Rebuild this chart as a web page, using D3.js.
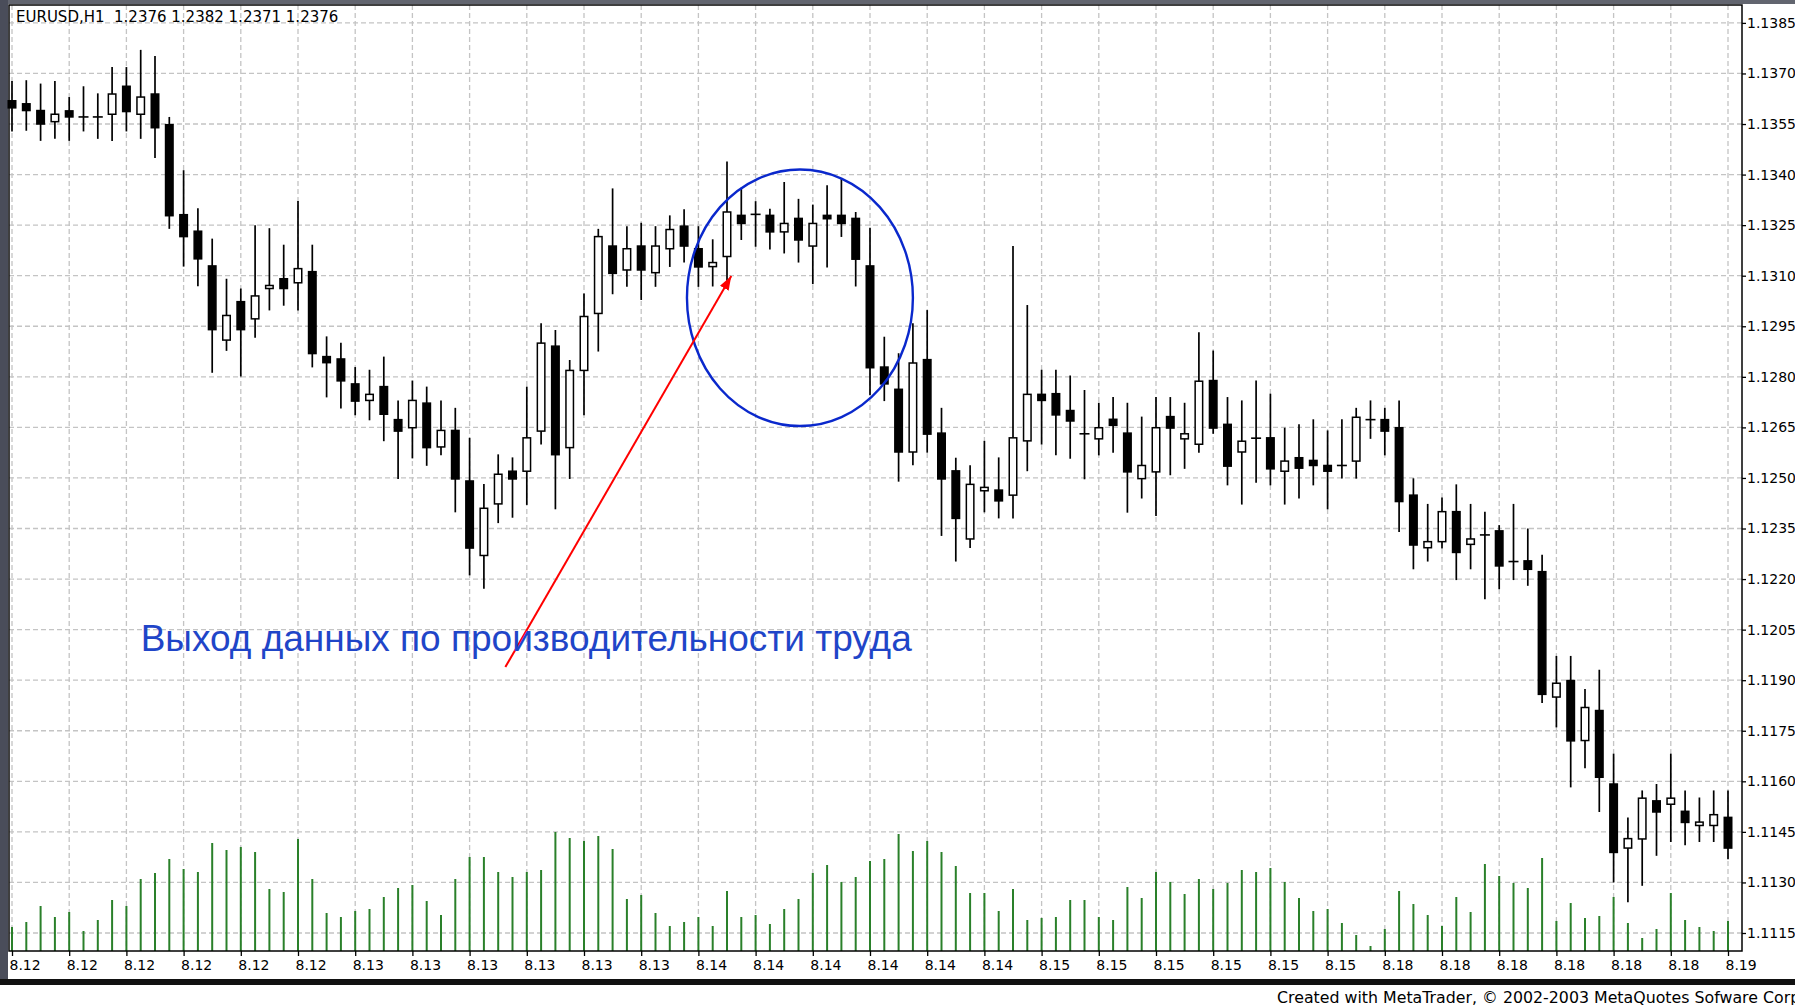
<!DOCTYPE html>
<html>
<head>
<meta charset="utf-8">
<script src="https://cdn.jsdelivr.net/npm/d3@7"></script>
<style>
  body { margin: 0; background: #fff; }
  svg { display: block; }
  .axis text { font-family: "DejaVu Sans", sans-serif; font-size: 14px; fill: #000; }
  .axis line { stroke: #000; stroke-width: 1.3; }
</style>
</head>
<body>
<svg id="chart" width="1795" height="1005"></svg>
<script>
// ---- data (EURUSD H1) ----
const headerText = "EURUSD,H1  1.2376 1.2382 1.2371 1.2376";
const noteText = "Выход данных по производительности труда";
const footerText = "Created with MetaTrader, © 2002-2003 MetaQuotes Sofware Corp.";

const openP = [
  1.13619, 1.1361, 1.1359, 1.13557, 1.13589, 1.13571, 1.13571, 1.13579, 1.13662, 1.13579,
  1.13639, 1.13548, 1.13281, 1.13232, 1.13129, 1.12909, 1.13023, 1.12972, 1.13062, 1.13091,
  1.13079, 1.13112, 1.1286, 1.12853, 1.12779, 1.1273, 1.12771, 1.12673, 1.12649, 1.12722,
  1.12592, 1.12641, 1.12491, 1.1227, 1.12423, 1.1252, 1.1252, 1.12639, 1.12891, 1.1259,
  1.12819, 1.12988, 1.13188, 1.13117, 1.13188, 1.13109, 1.1318, 1.13247, 1.1318, 1.13127,
  1.13157, 1.13279, 1.13279, 1.13279, 1.1323, 1.1327, 1.13188, 1.13279, 1.13279, 1.1327,
  1.13129, 1.12829, 1.12763, 1.12577, 1.12851, 1.12633, 1.12521, 1.12319, 1.12462, 1.12464,
  1.12449, 1.1261, 1.12748, 1.1275, 1.127, 1.12631, 1.12616, 1.12674, 1.12633, 1.12498,
  1.12518, 1.12682, 1.12616, 1.126, 1.12789, 1.12659, 1.12577, 1.12618, 1.12619, 1.1252,
  1.1256, 1.12552, 1.12537, 1.12537, 1.1255, 1.12673, 1.12673, 1.12649, 1.12449, 1.12293,
  1.12311, 1.124, 1.12303, 1.12331, 1.12343, 1.12252, 1.12254, 1.12222, 1.1185, 1.11899,
  1.11721, 1.1181, 1.11592, 1.11402, 1.11429, 1.11542, 1.11532, 1.11511, 1.11469, 1.11469,
  1.11493
];
const highP = [
  1.13678, 1.1368, 1.1367, 1.13678, 1.1363, 1.13662, 1.13641, 1.13719, 1.13719, 1.1377,
  1.13752, 1.13571, 1.13413, 1.133, 1.1321, 1.13091, 1.13062, 1.1325, 1.13241, 1.13192,
  1.13322, 1.13192, 1.1292, 1.12901, 1.12829, 1.12821, 1.1286, 1.1273, 1.12789, 1.12771,
  1.1273, 1.12708, 1.12619, 1.12482, 1.1257, 1.12561, 1.12771, 1.12959, 1.12939, 1.1285,
  1.13047, 1.13239, 1.13359, 1.13247, 1.13257, 1.13247, 1.13279, 1.13297, 1.13247, 1.13208,
  1.13439, 1.13361, 1.13321, 1.13299, 1.13378, 1.13328, 1.13311, 1.13368, 1.13388, 1.13289,
  1.13242, 1.12919, 1.1287, 1.12959, 1.12998, 1.12708, 1.1256, 1.12538, 1.1261, 1.12561,
  1.13188, 1.13013, 1.12821, 1.12821, 1.12804, 1.12761, 1.12723, 1.1274, 1.12723, 1.12682,
  1.1274, 1.1274, 1.12723, 1.12932, 1.12878, 1.1274, 1.1273, 1.12789, 1.1275, 1.12649,
  1.12659, 1.12674, 1.12641, 1.12674, 1.12708, 1.1273, 1.12708, 1.1273, 1.12499, 1.12423,
  1.12442, 1.12481, 1.12423, 1.124, 1.1236, 1.12423, 1.1235, 1.12272, 1.11972, 1.11972,
  1.11874, 1.11931, 1.11682, 1.11493, 1.11573, 1.11592, 1.11682, 1.11573, 1.11552, 1.11573,
  1.11573
];
const lowP = [
  1.13528, 1.1353, 1.135, 1.13506, 1.135, 1.13528, 1.13506, 1.135, 1.13528, 1.13506,
  1.13449, 1.13239, 1.13127, 1.13069, 1.12812, 1.12877, 1.12801, 1.12916, 1.12997, 1.13011,
  1.12997, 1.12828, 1.12739, 1.12706, 1.12686, 1.12671, 1.12609, 1.12497, 1.12558, 1.12536,
  1.12567, 1.12398, 1.12211, 1.12171, 1.12366, 1.12382, 1.1242, 1.12599, 1.12407, 1.12497,
  1.12686, 1.12875, 1.13045, 1.13067, 1.13028, 1.13067, 1.13126, 1.13139, 1.13067, 1.13068,
  1.13085, 1.13206, 1.13186, 1.13178, 1.13166, 1.13139, 1.13075, 1.13124, 1.13215, 1.13068,
  1.12745, 1.12728, 1.12489, 1.12538, 1.12575, 1.12328, 1.12252, 1.12292, 1.12398, 1.1238,
  1.1238, 1.1252, 1.12599, 1.12567, 1.12557, 1.12496, 1.12567, 1.12575, 1.12397, 1.12439,
  1.12387, 1.12508, 1.12527, 1.12575, 1.12631, 1.12478, 1.12421, 1.12486, 1.12478, 1.12421,
  1.12439, 1.12478, 1.12407, 1.12498, 1.12498, 1.12616, 1.12567, 1.1234, 1.12229, 1.12252,
  1.12291, 1.12197, 1.12229, 1.1214, 1.1217, 1.12197, 1.1218, 1.11832, 1.1176, 1.11582,
  1.11639, 1.11509, 1.113, 1.11241, 1.1129, 1.11379, 1.1142, 1.1141, 1.1142, 1.1142,
  1.11369
];
const closeP = [
  1.13598, 1.1359, 1.1355, 1.13579, 1.13571, 1.13571, 1.13571, 1.13639, 1.13587, 1.1363,
  1.13539, 1.13278, 1.13216, 1.1315, 1.1294, 1.12982, 1.1294, 1.1304, 1.13071, 1.13062,
  1.13121, 1.12869, 1.12842, 1.12788, 1.12728, 1.12748, 1.12689, 1.12639, 1.1273, 1.1259,
  1.12641, 1.12497, 1.12292, 1.1241, 1.12511, 1.12497, 1.12619, 1.129, 1.12569, 1.12819,
  1.12979, 1.13216, 1.13107, 1.1318, 1.13117, 1.13188, 1.13237, 1.13188, 1.13126, 1.13139,
  1.13289, 1.13255, 1.13282, 1.1323, 1.13255, 1.13206, 1.13255, 1.13269, 1.13255, 1.13149,
  1.12827, 1.12779, 1.12577, 1.12841, 1.1263, 1.12497, 1.1238, 1.12481, 1.12472, 1.12432,
  1.12619, 1.12748, 1.1273, 1.12687, 1.12669, 1.12631, 1.12649, 1.12656, 1.12518, 1.12537,
  1.12649, 1.12648, 1.12631, 1.12787, 1.12648, 1.12535, 1.12609, 1.12618, 1.12527, 1.1255,
  1.12529, 1.12537, 1.1252, 1.12537, 1.1268, 1.12673, 1.12639, 1.1243, 1.12301, 1.12311,
  1.124, 1.12279, 1.12319, 1.12331, 1.12239, 1.12252, 1.12229, 1.11858, 1.11891, 1.1172,
  1.11819, 1.11612, 1.11389, 1.1143, 1.1155, 1.11509, 1.1155, 1.11478, 1.11479, 1.11501,
  1.11402
];
const volumes = [
  24, 29, 45, 34, 39, 20, 31, 51, 45, 72,
  78, 92, 82, 79, 108, 101, 104, 99, 62, 59,
  112, 72, 38, 34, 40, 42, 54, 63, 66, 50,
  36, 72, 94, 94, 79, 74, 79, 81, 119, 113,
  110, 115, 102, 52, 56, 38, 25, 29, 34, 25,
  60, 34, 36, 27, 42, 52, 78, 86, 69, 74,
  90, 92, 117, 100, 110, 99, 85, 58, 58, 40,
  62, 31, 33, 34, 51, 51, 34, 31, 64, 53,
  79, 69, 57, 72, 62, 68, 81, 79, 83, 69,
  53, 40, 42, 28, 16, 5, 22, 60, 47, 36,
  25, 54, 39, 87, 75, 68, 63, 93, 30, 48,
  33, 35, 54, 28, 13, 22, 58, 31, 24, 20,
  30
];
// one date label every 4 bars
const dateLabels = [
  "8.12", "8.12", "8.12", "8.12", "8.12", "8.12",
  "8.13", "8.13", "8.13", "8.13", "8.13", "8.13",
  "8.14", "8.14", "8.14", "8.14", "8.14", "8.14",
  "8.15", "8.15", "8.15", "8.15", "8.15", "8.15",
  "8.18", "8.18", "8.18", "8.18", "8.18", "8.18",
  "8.19"
];
const priceTicks = [
  1.1385, 1.1370, 1.1355, 1.1340, 1.1325, 1.1310, 1.1295, 1.1280, 1.1265, 1.1250,
  1.1235, 1.1220, 1.1205, 1.1190, 1.1175, 1.1160, 1.1145, 1.1130, 1.1115
];
// annotation anchors in chart units: [bar index, price]
const circleBox = [[47.2, 1.13415], [63.0, 1.12654]];
const arrowLine = [[34.5, 1.11939], [50.3, 1.13099]];
const notePos = [9.0, 1.11987];

// ---- drawing ----
const W = 1795, H = 1005;
const plot = { left: 9, top: 5, right: 1742, bottom: 951 };
const barStep = 4;

const svg = d3.select('#chart');

const x = d3.scaleLinear().domain([0, openP.length - 1]).range([12, 1728]);
const y = d3.scaleLinear().domain([1.1115, 1.1385]).range([933, 22.9]);
const yVol = d3.scaleLinear().domain([0, 120]).range([plot.bottom, plot.bottom - 120]);

svg.append('rect').attr('width', W).attr('height', H).attr('fill', '#fff');

// window frame strips
svg.append('rect').attr('x', 0).attr('y', 0).attr('width', W).attr('height', 4).attr('fill', '#62656f');
svg.append('rect').attr('x', 0).attr('y', 0).attr('width', 8).attr('height', 979).attr('fill', '#4a4d5a');

// grid
const tickBars = dateLabels.map((d, i) => i * barStep);
const grid = svg.append('g')
  .attr('stroke', '#c4c4c4')
  .attr('stroke-width', 1.3)
  .attr('stroke-dasharray', '5,3');

grid.selectAll('line.h')
  .data(priceTicks)
  .join('line')
  .attr('class', 'h')
  .attr('x1', plot.left).attr('x2', plot.right)
  .attr('y1', d => y(d)).attr('y2', d => y(d));

grid.selectAll('line.v')
  .data(tickBars)
  .join('line')
  .attr('class', 'v')
  .attr('y1', plot.top).attr('y2', plot.bottom)
  .attr('x1', d => x(d)).attr('x2', d => x(d));

// volumes
svg.append('g')
  .selectAll('line')
  .data(volumes)
  .join('line')
  .attr('x1', (d, i) => x(i)).attr('x2', (d, i) => x(i))
  .attr('y1', yVol(0)).attr('y2', d => yVol(d))
  .attr('stroke', '#2a802a')
  .attr('stroke-width', 2);

// candles
const bars = openP.map((o, i) => ({ i, o, h: highP[i], l: lowP[i], c: closeP[i] }));
const candle = svg.append('g')
  .selectAll('g')
  .data(bars)
  .join('g');

candle.append('line')
  .attr('x1', d => x(d.i)).attr('x2', d => x(d.i))
  .attr('y1', d => y(d.h)).attr('y2', d => y(d.l))
  .attr('stroke', '#000')
  .attr('stroke-width', 1.7);

const bodyW = 7.5;
candle.filter(d => Math.abs(d.o - d.c) >= 0.00004)
  .append('rect')
  .attr('x', d => x(d.i) - bodyW / 2)
  .attr('y', d => y(Math.max(d.o, d.c)))
  .attr('width', bodyW)
  .attr('height', d => Math.abs(y(d.o) - y(d.c)))
  .attr('fill', d => d.c > d.o ? '#fff' : '#000')
  .attr('stroke', '#000')
  .attr('stroke-width', 1.5);

candle.filter(d => Math.abs(d.o - d.c) < 0.00004)
  .append('line')
  .attr('x1', d => x(d.i) - 5).attr('x2', d => x(d.i) + 5)
  .attr('y1', d => y(d.c)).attr('y2', d => y(d.c))
  .attr('stroke', '#000')
  .attr('stroke-width', 1.6);

// plot frame
svg.append('rect')
  .attr('x', plot.left).attr('y', plot.top)
  .attr('width', plot.right - plot.left).attr('height', plot.bottom - plot.top)
  .attr('fill', 'none')
  .attr('stroke', '#000')
  .attr('stroke-width', 1.5);

// price axis
const yAxis = svg.append('g')
  .attr('class', 'axis')
  .attr('transform', `translate(${plot.right},0)`)
  .call(d3.axisRight(y).tickValues(priceTicks).tickSize(4).tickPadding(1).tickFormat(d3.format('.4f')));
yAxis.select('.domain').remove();

// date axis
const xAxis = svg.append('g')
  .attr('class', 'axis')
  .attr('transform', `translate(0,${plot.bottom})`)
  .call(d3.axisBottom(x).tickValues(tickBars).tickSize(5).tickPadding(4).tickFormat((d, i) => dateLabels[i]));
xAxis.select('.domain').remove();
xAxis.selectAll('text').attr('text-anchor', 'start').attr('dx', -3);

// header
svg.append('text')
  .attr('x', 16).attr('y', 22)
  .attr('font-family', 'DejaVu Sans, sans-serif')
  .attr('font-size', 15)
  .attr('xml:space', 'preserve')
  .style('white-space', 'pre')
  .text(headerText);

// bottom bar and footer (the reference cuts it at the right edge too)
svg.append('rect').attr('x', 0).attr('y', 979).attr('width', W).attr('height', 6).attr('fill', '#111');
svg.append('text')
  .attr('x', 1277).attr('y', 1003)
  .attr('font-family', 'DejaVu Sans, sans-serif')
  .attr('font-size', 15.8)
  .text(footerText);

// annotation: circle
const cx = (x(circleBox[0][0]) + x(circleBox[1][0])) / 2;
const cy = (y(circleBox[0][1]) + y(circleBox[1][1])) / 2;
svg.append('ellipse')
  .attr('cx', cx).attr('cy', cy)
  .attr('rx', (x(circleBox[1][0]) - x(circleBox[0][0])) / 2)
  .attr('ry', (y(circleBox[1][1]) - y(circleBox[0][1])) / 2)
  .attr('fill', 'none')
  .attr('stroke', '#0a28cc')
  .attr('stroke-width', 2.4);

// annotation: arrow
svg.append('defs').append('marker')
  .attr('id', 'head')
  .attr('markerUnits', 'userSpaceOnUse')
  .attr('viewBox', '0 0 14 10')
  .attr('refX', 14).attr('refY', 5)
  .attr('markerWidth', 14).attr('markerHeight', 10)
  .attr('orient', 'auto')
  .append('path')
  .attr('d', 'M0,0 L14,5 L0,10 Z')
  .attr('fill', '#f00');

svg.append('line')
  .attr('x1', x(arrowLine[0][0])).attr('y1', y(arrowLine[0][1]))
  .attr('x2', x(arrowLine[1][0])).attr('y2', y(arrowLine[1][1]))
  .attr('stroke', '#f00')
  .attr('stroke-width', 2)
  .attr('marker-end', 'url(#head)');

// annotation: text
svg.append('text')
  .attr('x', x(notePos[0])).attr('y', y(notePos[1]))
  .attr('font-family', 'Liberation Sans, Arial, sans-serif')
  .attr('font-size', 37)
  .attr('fill', '#1f45c8')
  .text(noteText);
</script>
</body>
</html>
